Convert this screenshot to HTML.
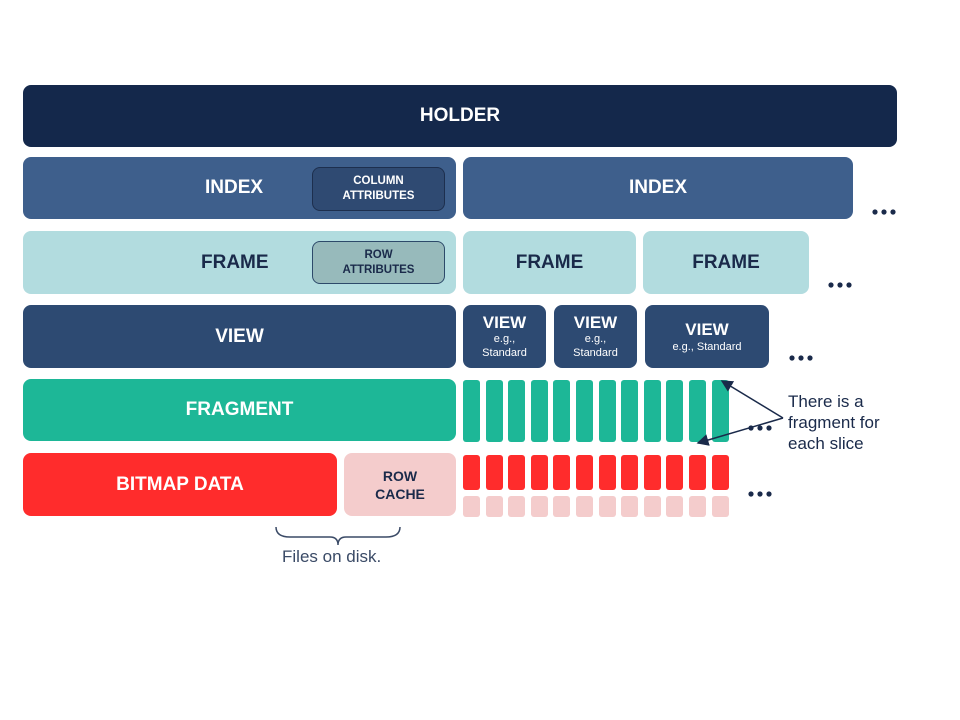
<!DOCTYPE html>
<html><head><meta charset="utf-8"><style>
body{margin:0;width:960px;height:720px;background:#fff;position:relative;overflow:hidden;font-family:"Liberation Sans",sans-serif}
.b{position:absolute;border-radius:8px;display:flex;align-items:center;justify-content:center;font-weight:bold;text-align:center;box-sizing:border-box}
.w{color:#fff}.d{color:#1a2a4a}
.s{position:absolute;border-radius:3px}
</style></head><body>
<div class="b w" style="left:23px;top:85px;width:874px;height:62px;background:#14284b;font-size:19px">HOLDER</div>

<div class="b w" style="left:23px;top:157px;width:433px;height:62px;background:#3e5f8c;font-size:19px;justify-content:flex-start;padding-left:182px">INDEX</div>
<div class="b w" style="left:312px;top:167px;width:133px;height:44px;background:#2f4a72;border:1.5px solid #1d2f4e;font-size:11.5px;line-height:15px">COLUMN<br>ATTRIBUTES</div>
<div class="b w" style="left:463px;top:157px;width:390px;height:62px;background:#3e5f8c;font-size:19px">INDEX</div>

<div class="b d" style="left:23px;top:231px;width:433px;height:63px;background:#b2dcdf;font-size:19px;justify-content:flex-start;padding-left:178px">FRAME</div>
<div class="b d" style="left:312px;top:241px;width:133px;height:43px;background:#97babb;border:1.5px solid #2d4a6a;font-size:11.5px;line-height:15px">ROW<br>ATTRIBUTES</div>
<div class="b d" style="left:463px;top:231px;width:173px;height:63px;background:#b2dcdf;font-size:19px">FRAME</div>
<div class="b d" style="left:643px;top:231px;width:166px;height:63px;background:#b2dcdf;font-size:19px">FRAME</div>

<div class="b w" style="left:23px;top:305px;width:433px;height:63px;background:#2d4a72;font-size:19px">VIEW</div>
<div class="b w" style="left:463px;top:305px;width:83px;height:63px;background:#2d4a72;flex-direction:column;font-size:17px;line-height:18px">VIEW<span style="font-weight:normal;font-size:11px;line-height:14px">e.g.,<br>Standard</span></div>
<div class="b w" style="left:554px;top:305px;width:83px;height:63px;background:#2d4a72;flex-direction:column;font-size:17px;line-height:18px">VIEW<span style="font-weight:normal;font-size:11px;line-height:14px">e.g.,<br>Standard</span></div>
<div class="b w" style="left:645px;top:305px;width:124px;height:63px;background:#2d4a72;flex-direction:column;font-size:17px;line-height:20px">VIEW<span style="font-weight:normal;font-size:11px;line-height:14px">e.g., Standard</span></div>

<div class="b w" style="left:23px;top:379px;width:433px;height:62px;background:#1db797;font-size:19px">FRAGMENT</div>
<svg style="position:absolute;left:0;top:0" width="960" height="720">
<g fill="#1a2a4a">
<circle cx="875" cy="212" r="2.6"/><circle cx="884" cy="212" r="2.6"/><circle cx="893" cy="212" r="2.6"/>
<circle cx="831" cy="285" r="2.6"/><circle cx="840" cy="285" r="2.6"/><circle cx="849" cy="285" r="2.6"/>
<circle cx="792" cy="358" r="2.6"/><circle cx="801" cy="358" r="2.6"/><circle cx="810" cy="358" r="2.6"/>
<circle cx="751" cy="428" r="2.6"/><circle cx="760" cy="428" r="2.6"/><circle cx="769" cy="428" r="2.6"/>
<circle cx="751" cy="494" r="2.6"/><circle cx="760" cy="494" r="2.6"/><circle cx="769" cy="494" r="2.6"/>
</g></svg>
<div id="g"></div>

<div class="b w" style="left:23px;top:453px;width:314px;height:63px;background:#ff2c2c;font-size:19px">BITMAP DATA</div>
<div class="b d" style="left:344px;top:453px;width:112px;height:63px;background:#f4cccc;font-size:14px;line-height:18px">ROW<br>CACHE</div>

<script>
var h='';for(var i=0;i<12;i++){var x=463+i*22.6;
h+='<div class="s" style="left:'+x+'px;top:380px;width:17px;height:62px;background:#1db797"></div>';
h+='<div class="s" style="left:'+x+'px;top:455px;width:17px;height:35px;background:#ff2c2c"></div>';
h+='<div class="s" style="left:'+x+'px;top:496px;width:17px;height:21px;background:#f4cccc"></div>';}
document.getElementById('g').outerHTML=h;
</script>

<svg style="position:absolute;left:0;top:0" width="960" height="720">
<defs><marker id="a" markerWidth="8" markerHeight="8" refX="7" refY="4" orient="auto"><path d="M0,0 L8,4 L0,8 Z" fill="#1a2a4a"/></marker></defs>
<line x1="783" y1="418" x2="722" y2="381" stroke="#1a2a4a" stroke-width="1.5" marker-end="url(#a)"/>
<line x1="783" y1="418" x2="698" y2="443" stroke="#1a2a4a" stroke-width="1.5" marker-end="url(#a)"/>
<path d="M276,527 Q276,537 290,537 L330,537 Q338,537 338,545 Q338,537 346,537 L386,537 Q400,537 400,527" fill="none" stroke="#3a4a66" stroke-width="1.5"/>
</svg>
<div style="position:absolute;left:788px;top:391px;font-size:17px;line-height:21px;color:#1a2a4a">There is a<br>fragment for<br>each slice</div>
<div style="position:absolute;left:282px;top:547px;font-size:17px;color:#3a4a66">Files on disk.</div>
</body></html>
